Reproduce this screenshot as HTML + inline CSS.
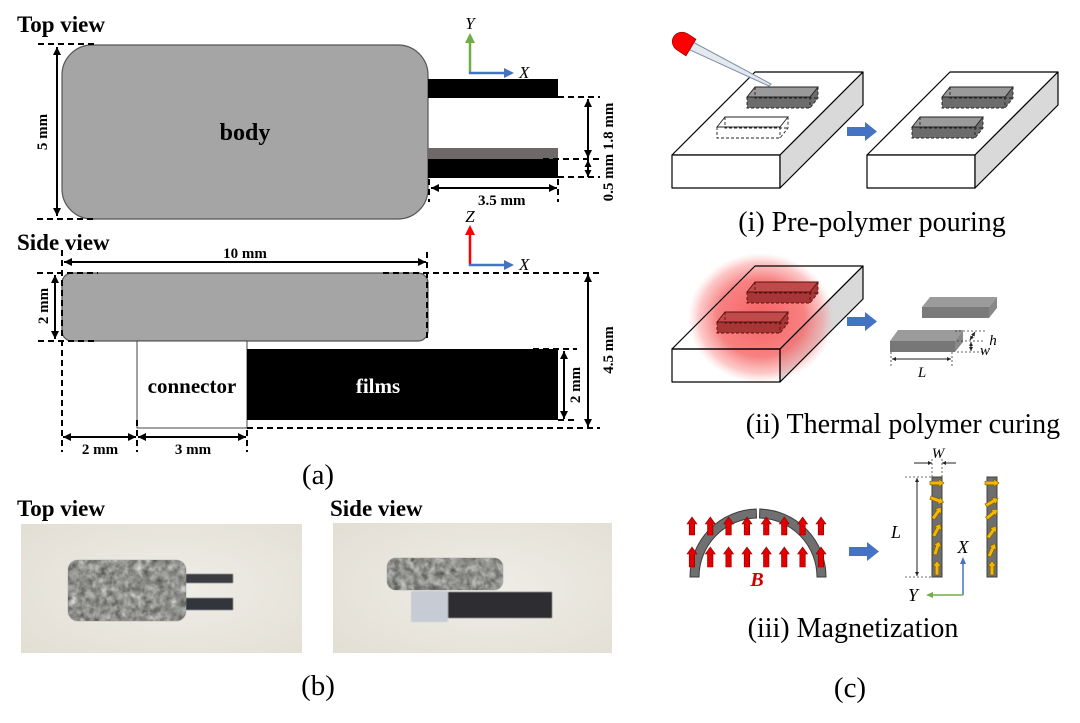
<!DOCTYPE html>
<html><head><meta charset="utf-8"><style>
html,body{margin:0;padding:0;background:#fff;}
svg{display:block;}
</style></head><body>
<svg width="1080" height="723" viewBox="0 0 1080 723" font-family="'Liberation Serif', serif" xmlns="http://www.w3.org/2000/svg">
<defs>
<marker id="a" viewBox="0 0 10 10" refX="10" refY="5" markerWidth="9" markerHeight="8" markerUnits="userSpaceOnUse" orient="auto-start-reverse"><path d="M0,0 L10,5 L0,10 z" fill="#000"/></marker>
<marker id="am" viewBox="0 0 10 10" refX="10" refY="5" markerWidth="7" markerHeight="7" markerUnits="userSpaceOnUse" orient="auto-start-reverse"><path d="M0,0 L10,5 L0,10 z" fill="#000"/></marker>
<marker id="as" viewBox="0 0 10 10" refX="10" refY="5" markerWidth="5" markerHeight="4" markerUnits="userSpaceOnUse" orient="auto-start-reverse"><path d="M0,0 L10,5 L0,10 z" fill="#222"/></marker>
<radialGradient id="glow" cx="0.5" cy="0.5" r="0.5">
<stop offset="0" stop-color="#f55050" stop-opacity="0.9"/>
<stop offset="0.6" stop-color="#f66262" stop-opacity="0.8"/>
<stop offset="0.85" stop-color="#f98484" stop-opacity="0.45"/>
<stop offset="1" stop-color="#ffaaaa" stop-opacity="0"/>
</radialGradient>
<radialGradient id="bg1" cx="0.55" cy="0.5" r="0.7">
<stop offset="0" stop-color="#efede7"/>
<stop offset="1" stop-color="#e3dfd5"/>
</radialGradient>
<filter id="foam" x="0" y="0" width="1" height="1" color-interpolation-filters="sRGB">
<feTurbulence type="fractalNoise" baseFrequency="0.14" numOctaves="3" seed="5" result="n"/>
<feColorMatrix in="n" type="matrix" values="0.35 0.35 0.35 0 0.04  0.35 0.35 0.35 0 0.04  0.35 0.35 0.35 0 0.03  0 0 0 0 1" result="g"/>
<feComposite in="g" in2="SourceGraphic" operator="in"/>
</filter>
<filter id="soft"><feGaussianBlur stdDeviation="0.6"/></filter>
</defs>

<!-- ============ (a) TOP VIEW ============ -->
<text x="17" y="32" font-size="23" font-weight="bold">Top view</text>
<rect x="62" y="45" width="366" height="174" rx="30" fill="#a5a5a5" stroke="#555" stroke-width="1.2"/>
<text x="245" y="140" font-size="24" font-weight="bold" text-anchor="middle">body</text>
<rect x="428" y="79" width="130" height="19" fill="#000"/>
<rect x="428" y="148" width="130" height="11" fill="#6e6868"/>
<rect x="428" y="159" width="130" height="19" fill="#000"/>
<path d="M38,44H98 M37,219H95 M558,97H600 M543,159H600 M558,177H600 M429,179V202 M558,179V202" stroke="#000" stroke-width="2" stroke-dasharray="6 4" fill="none"/>
<g stroke="#000" stroke-width="2">
<line x1="57" y1="47" x2="57" y2="216" marker-start="url(#a)" marker-end="url(#a)"/>
<line x1="588" y1="99" x2="588" y2="158" marker-start="url(#a)" marker-end="url(#a)"/>
<line x1="588" y1="160" x2="588" y2="177" marker-start="url(#am)" marker-end="url(#am)"/>
<line x1="431" y1="188" x2="557" y2="188" marker-start="url(#a)" marker-end="url(#a)"/>
</g>
<text transform="translate(47,132) rotate(-90)" text-anchor="middle" font-size="15" font-weight="bold">5 mm</text>
<text transform="translate(613,152) rotate(-90)" text-anchor="middle" font-size="15" font-weight="bold">0.5 mm 1.8 mm</text>
<text x="478" y="205" font-size="15" font-weight="bold">3.5 mm</text>
<!-- axes top -->
<line x1="470" y1="74" x2="470" y2="42" stroke="#70ad47" stroke-width="2.5"/>
<polygon points="465,43 475,43 470,33" fill="#70ad47"/>
<line x1="469" y1="73" x2="505" y2="73" stroke="#4472c4" stroke-width="2.5"/>
<polygon points="504,68 514,73 504,78" fill="#4472c4"/>
<text x="470" y="29" font-size="17" font-style="italic" text-anchor="middle">Y</text>
<text x="519" y="78" font-size="17" font-style="italic">X</text>

<!-- ============ (a) SIDE VIEW ============ -->
<text x="17" y="250" font-size="23" font-weight="bold">Side view</text>
<rect x="62" y="273" width="366" height="68" rx="10" fill="#a5a5a5" stroke="#555" stroke-width="1.2"/>
<rect x="137" y="341" width="110" height="87" fill="#fff" stroke="#444" stroke-width="1"/>
<rect x="247" y="349" width="311" height="71" fill="#000"/>
<text x="192" y="393" font-size="21" font-weight="bold" text-anchor="middle">connector</text>
<text x="378" y="393" font-size="21" font-weight="bold" text-anchor="middle" fill="#fff">films</text>
<path d="M62,250V452 M427,252V340 M37,273H98 M383,273H600 M38,341H98 M247,428H600 M533,349H577 M558,420H577 M137,420V452 M247,430V452" stroke="#000" stroke-width="2" stroke-dasharray="6 4" fill="none"/>
<g stroke="#000" stroke-width="2">
<line x1="64" y1="262" x2="426" y2="262" marker-start="url(#a)" marker-end="url(#a)"/>
<line x1="55" y1="275" x2="55" y2="339" marker-start="url(#a)" marker-end="url(#a)"/>
<line x1="564" y1="351" x2="564" y2="419" marker-start="url(#a)" marker-end="url(#a)"/>
<line x1="588" y1="274" x2="588" y2="427" marker-start="url(#a)" marker-end="url(#a)"/>
<line x1="63" y1="437" x2="136" y2="437" marker-start="url(#a)" marker-end="url(#a)"/>
<line x1="138" y1="437" x2="246" y2="437" marker-start="url(#a)" marker-end="url(#a)"/>
</g>
<text x="245" y="258" font-size="15" font-weight="bold" text-anchor="middle">10 mm</text>
<text transform="translate(48,306) rotate(-90)" text-anchor="middle" font-size="15" font-weight="bold">2 mm</text>
<text transform="translate(580,385) rotate(-90)" text-anchor="middle" font-size="15" font-weight="bold">2 mm</text>
<text transform="translate(613,350) rotate(-90)" text-anchor="middle" font-size="15" font-weight="bold">4.5 mm</text>
<text x="100" y="454" font-size="15" font-weight="bold" text-anchor="middle">2 mm</text>
<text x="193" y="454" font-size="15" font-weight="bold" text-anchor="middle">3 mm</text>
<!-- axes side -->
<line x1="470" y1="266" x2="470" y2="234" stroke="#ff0000" stroke-width="2.5"/>
<polygon points="465,235 475,235 470,225" fill="#ff0000"/>
<line x1="469" y1="265" x2="505" y2="265" stroke="#4472c4" stroke-width="2.5"/>
<polygon points="504,260 514,265 504,270" fill="#4472c4"/>
<text x="470" y="222" font-size="17" font-style="italic" text-anchor="middle">Z</text>
<text x="519" y="270" font-size="17" font-style="italic">X</text>

<text x="318" y="484" font-size="29" text-anchor="middle">(a)</text>

<!-- ============ (b) PHOTOS ============ -->
<text x="17" y="516" font-size="23" font-weight="bold">Top view</text>
<text x="330" y="516" font-size="23" font-weight="bold">Side view</text>
<rect x="21" y="524" width="281" height="129" fill="url(#bg1)"/>
<rect x="333" y="523" width="279" height="130" fill="url(#bg1)"/>
<!-- photo 1 -->
<g filter="url(#soft)">
<rect x="185" y="574" width="48" height="9" fill="#3a3b42"/>
<rect x="185" y="598" width="48" height="12" fill="#33343b"/>
<rect x="68" y="560" width="118" height="61" rx="10" fill="#8e8f8c"/>
</g>
<rect x="68" y="560" width="118" height="61" rx="10" fill="#000" filter="url(#foam)"/>
<!-- photo 2 -->
<g filter="url(#soft)">
<rect x="447" y="592" width="105" height="26" fill="#2f2f31"/>
<rect x="411" y="591" width="37" height="31" rx="2" fill="#c7cbd3"/>
<rect x="387" y="558" width="116" height="32" rx="9" fill="#8f908c"/>
</g>
<rect x="387" y="558" width="116" height="32" rx="9" fill="#000" filter="url(#foam)"/>
<text x="318" y="695" font-size="29" text-anchor="middle">(b)</text>

<!-- ============ (c) STEP i ============ -->
<g stroke="#000" stroke-width="1.2" stroke-linejoin="round">
<polygon points="672,155 780,155 863,72 755,72" fill="#fff"/>
<rect x="672" y="155" width="108" height="33" fill="#fff"/>
<polygon points="780,155 863,72 863,105 780,188" fill="#d9d9d9"/>
<polygon points="867,155 975,155 1058,72 950,72" fill="#fff"/>
<rect x="867" y="155" width="108" height="33" fill="#fff"/>
<polygon points="975,155 1058,72 1058,105 975,188" fill="#d9d9d9"/>
</g>
<g stroke="#222" stroke-width="0.9">
<polygon points="747,97 755,87 818,87 818,98 810,108 747,108" fill="#6c6c6c" stroke="none"/>
<polygon points="747,97 755,87 818,87 810,97" fill="#9a9a9a"/>
<path d="M747,97V108H810L818,98V87 M810,97V108 M755,87V98H818" fill="none" stroke-dasharray="3 2"/>
<polygon points="717,127 725,117 788,117 780,127" fill="#fff"/>
<path d="M717,127V138H780L788,128V117 M780,127V138 M725,117V128H788" fill="none" stroke-dasharray="3 2"/>
<polygon points="942,97 950,87 1013,87 1013,98 1005,108 942,108" fill="#6c6c6c" stroke="none"/>
<polygon points="942,97 950,87 1013,87 1005,97" fill="#9a9a9a"/>
<path d="M942,97V108H1005L1013,98V87 M1005,97V108 M950,87V98H1013" fill="none" stroke-dasharray="3 2"/>
<polygon points="912,127 920,117 983,117 983,128 975,138 912,138" fill="#6c6c6c" stroke="none"/>
<polygon points="912,127 920,117 983,117 975,127" fill="#9a9a9a"/>
<path d="M912,127V138H975L983,128V117 M975,127V138 M920,117V128H983" fill="none" stroke-dasharray="3 2"/>
</g>
<!-- dropper -->
<polygon points="691,41 771,84 769,86 690,50" fill="#e4e9f0" stroke="#7f8fa6" stroke-width="1"/>
<path d="M693,36 L690,55 L680,53 A10,9.5 0 0 1 683,34 Z" fill="#ff0000" stroke="#a00000" stroke-width="0.8" transform="rotate(22,686,45)"/>
<polygon points="847,127 865,127 865,122 877,131.5 865,141 865,136 847,136" fill="#4472c4"/>
<text x="872" y="231" font-size="28" text-anchor="middle">(i) Pre-polymer pouring</text>

<!-- ============ (c) STEP ii ============ -->
<g stroke="none">
<polygon points="672,349 780,349 863,266 755,266" fill="#fff"/>
<rect x="672" y="349" width="108" height="33" fill="#fff"/>
<polygon points="780,349 863,266 863,299 780,382" fill="#d9d9d9"/>
</g>
<ellipse cx="761" cy="318" rx="73" ry="65" fill="url(#glow)"/>
<g stroke="#000" stroke-width="1.2" fill="none" stroke-linejoin="round">
<polygon points="672,349 780,349 863,266 755,266"/>
<rect x="672" y="349" width="108" height="33"/>
<polygon points="780,349 863,266 863,299 780,382"/>
</g>
<g stroke="#5a1010" stroke-width="0.9">
<polygon points="747,292 755,282 818,282 818,293 810,303 747,303" fill="#a83636" stroke="none"/>
<polygon points="747,292 755,282 818,282 810,292" fill="#c04a4a"/>
<path d="M747,292V303H810L818,293V282 M810,292V303 M755,282V293H818" fill="none" stroke-dasharray="3 2"/>
<polygon points="717,322 725,312 788,312 788,323 780,333 717,333" fill="#a83636" stroke="none"/>
<polygon points="717,322 725,312 788,312 780,322" fill="#c04a4a"/>
<path d="M717,322V333H780L788,323V312 M780,322V333 M725,312V323H788" fill="none" stroke-dasharray="3 2"/>
</g>
<polygon points="847,317 865,317 865,312 877,321.5 865,331 865,326 847,326" fill="#4472c4"/>
<polygon points="930,297 997,297 989,307 922,307" fill="#9b9b9b"/>
<polygon points="922,307 989,307 989,318 922,318" fill="#7a7a7a"/>
<polygon points="989,307 997,297 997,308 989,318" fill="#888"/>
<polygon points="898,330 963,330 955,341 890,341" fill="#9b9b9b"/>
<polygon points="890,341 955,341 955,352 890,352" fill="#777"/>
<polygon points="955,341 963,330 963,342 955,352" fill="#888"/>
<path d="M955,331H985 M957,341H985 M957,352H985 M891,352V367 M952,352V367" stroke="#333" stroke-width="0.8" stroke-dasharray="2 2" fill="none"/>
<g stroke="#222" stroke-width="1">
<line x1="892" y1="359" x2="951" y2="359" marker-start="url(#as)" marker-end="url(#as)"/>
<line x1="975" y1="332" x2="970" y2="340" marker-start="url(#as)" marker-end="url(#as)"/>
<line x1="971" y1="342" x2="971" y2="351" marker-start="url(#as)" marker-end="url(#as)"/>
</g>
<text x="922" y="377" font-size="15" font-style="italic" text-anchor="middle">L</text>
<text x="993" y="345" font-size="15" font-style="italic" text-anchor="middle">h</text>
<text x="985" y="355" font-size="15" font-style="italic" text-anchor="middle">w</text>
<text x="903" y="433" font-size="28" text-anchor="middle">(ii) Thermal polymer curing</text>

<!-- ============ (c) STEP iii ============ -->
<path d="M690,577 A68,68 0 0 1 756.2,509 L756.5,518 A59,59 0 0 0 699,577 Z" fill="#707070" stroke="#3c3c3c" stroke-width="1"/>
<path d="M759.8,509 A68,68 0 0 1 826,577 L817,577 A59,59 0 0 0 759.5,518 Z" fill="#707070" stroke="#3c3c3c" stroke-width="1"/>
<g fill="#e00000" stroke="#8a0000" stroke-width="0.6">
<path d="M689.2,535V524H687L692,517L697,524H694.7V535Z"/>
<path d="M707.5,535V524H705.3L710.3,517L715.3,524H713V535Z"/>
<path d="M725.8,535V524H723.6L728.6,517L733.6,524H731.3V535Z"/>
<path d="M744.2,535V524H742L747,517L752,524H749.7V535Z"/>
<path d="M763.5,535V524H761.3L766.3,517L771.3,524H769V535Z"/>
<path d="M781.5,535V524H779.3L784.3,517L789.3,524H787V535Z"/>
<path d="M799.8,535V524H797.6L802.6,517L807.6,524H805.3V535Z"/>
<path d="M818.2,535V524H816L821,517L826,524H823.7V535Z"/>
<path d="M689.2,567V554H687L692,547L697,554H694.7V567Z"/>
<path d="M707.5,567V554H705.3L710.3,547L715.3,554H713V567Z"/>
<path d="M725.8,567V554H723.6L728.6,547L733.6,554H731.3V567Z"/>
<path d="M744.2,567V554H742L747,547L752,554H749.7V567Z"/>
<path d="M763.5,567V554H761.3L766.3,547L771.3,554H769V567Z"/>
<path d="M781.5,567V554H779.3L784.3,547L789.3,554H787V567Z"/>
<path d="M799.8,567V554H797.6L802.6,547L807.6,554H805.3V567Z"/>
<path d="M818.2,567V554H816L821,547L826,554H823.7V567Z"/>
</g>
<text x="757" y="586" font-size="20" font-weight="bold" font-style="italic" fill="#d00000" text-anchor="middle">B</text>
<polygon points="849,547 867,547 867,542 879,551.5 867,561 867,556 849,556" fill="#4472c4"/>
<rect x="932" y="477" width="10" height="100" fill="#6e6e6e" stroke="#404040" stroke-width="1"/>
<rect x="987" y="477" width="10" height="100" fill="#6e6e6e" stroke="#404040" stroke-width="1"/>
<g fill="#f5b800" stroke="#7a5c00" stroke-width="0.6">
<path d="M-7,-1.8H2V-4L7,0L2,4V1.8H-7Z" transform="translate(937,483) rotate(0)"/>
<path d="M-7,-1.8H2V-4L7,0L2,4V1.8H-7Z" transform="translate(937,500) rotate(20)"/>
<path d="M-7,-1.8H2V-4L7,0L2,4V1.8H-7Z" transform="translate(937,513) rotate(-55)"/>
<path d="M-7,-1.8H2V-4L7,0L2,4V1.8H-7Z" transform="translate(937,530) rotate(-62)"/>
<path d="M-7,-1.8H2V-4L7,0L2,4V1.8H-7Z" transform="translate(937,548) rotate(-72)"/>
<path d="M-7,-1.8H2V-4L7,0L2,4V1.8H-7Z" transform="translate(937,568) rotate(-90)"/>
<path d="M-7,-1.8H2V-4L7,0L2,4V1.8H-7Z" transform="translate(992,483) rotate(0)"/>
<path d="M-7,-1.8H2V-4L7,0L2,4V1.8H-7Z" transform="translate(992,502) rotate(-30)"/>
<path d="M-7,-1.8H2V-4L7,0L2,4V1.8H-7Z" transform="translate(992,514) rotate(-40)"/>
<path d="M-7,-1.8H2V-4L7,0L2,4V1.8H-7Z" transform="translate(992,532) rotate(-55)"/>
<path d="M-7,-1.8H2V-4L7,0L2,4V1.8H-7Z" transform="translate(992,550) rotate(-65)"/>
<path d="M-7,-1.8H2V-4L7,0L2,4V1.8H-7Z" transform="translate(992,568) rotate(-90)"/>
</g>
<path d="M905,477H932 M905,577H932 M932,459V477 M942,459V477" stroke="#444" stroke-width="0.8" stroke-dasharray="2 2" fill="none"/>
<g stroke="#222" stroke-width="1">
<line x1="917" y1="478" x2="917" y2="576" marker-start="url(#as)" marker-end="url(#as)"/>
<line x1="914" y1="463" x2="932" y2="463" marker-end="url(#as)"/>
<line x1="956" y1="463" x2="942" y2="463" marker-end="url(#as)"/>
</g>
<text x="938" y="458" font-size="15" font-style="italic" text-anchor="middle">W</text>
<text x="896" y="538" font-size="18" font-style="italic" text-anchor="middle">L</text>
<line x1="963" y1="595" x2="963" y2="563" stroke="#4472c4" stroke-width="1.5"/>
<polygon points="960,564 966,564 963,557" fill="#4472c4"/>
<line x1="963" y1="595" x2="932" y2="595" stroke="#70ad47" stroke-width="1.5"/>
<polygon points="933,592 933,598 926,595" fill="#70ad47"/>
<text x="963" y="553" font-size="18" font-style="italic" text-anchor="middle">X</text>
<text x="913" y="601" font-size="18" font-style="italic" text-anchor="middle">Y</text>
<text x="853" y="637" font-size="28" text-anchor="middle">(iii) Magnetization</text>
<text x="850" y="697" font-size="29" text-anchor="middle">(c)</text>
</svg>
</body></html>
